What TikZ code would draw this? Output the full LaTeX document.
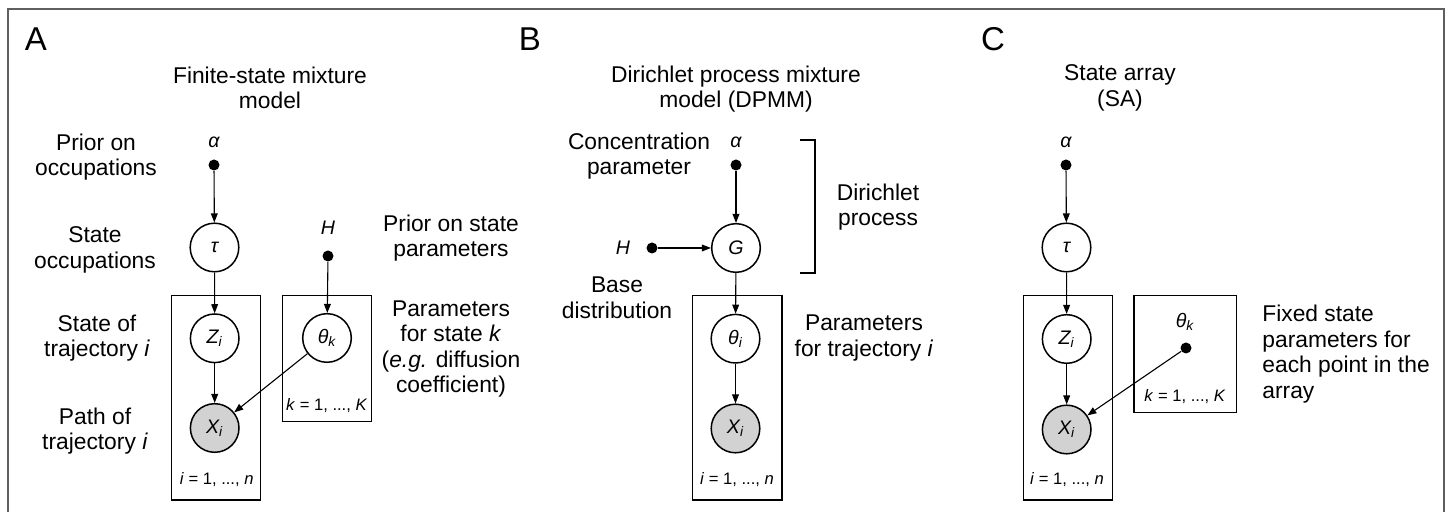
\documentclass[tikz,border=0pt]{standalone}
\usepackage{fontspec}
\setmainfont{Liberation Sans}
\usetikzlibrary{arrows.meta}
\definecolor{obsgray}{RGB}{210,210,210}
\definecolor{framegray}{RGB}{95,95,95}

\begin{document}
\begin{tikzpicture}[x=0.5pt,y=-0.5pt,
  txt/.style={align=center,inner sep=0pt,font=\fontsize{11.4}{12.8}\selectfont},
  panel/.style={inner sep=0pt,font=\fontsize{16.5}{19}\selectfont},
  var/.style={inner sep=0pt,font=\fontsize{9.8}{11}\selectfont\itshape},
  rv/.style={circle,draw,line width=0.75pt,minimum size=24.3pt,inner sep=0pt,font=\fontsize{9.8}{11}\selectfont\itshape},
  obs/.style={rv,fill=obsgray},
  hyper/.style={circle,fill,minimum size=5.5pt,inner sep=0pt},
  plate/.style={draw,line width=0.75pt},
  platelbl/.style={inner sep=0pt,font=\fontsize{8.3}{10}\selectfont},
  edge/.style={-{Triangle[length=4.5pt,width=3.4pt]},line width=0.55pt}]
  % Pixel grid: x to the right, y downward, 1448 x 512.
  \useasboundingbox (0,0) rectangle (1448,512);
  \draw[framegray,line width=1pt] (8,512) -- (8,9) -- (1443.5,9) -- (1443.5,512);

  % ---- A: finite-state mixture model ----
  \node[panel] (lblA) at (36,39) {A};
  \node[txt] (titleA) at (270,88) {Finite-state mixture\\model};
  \node[txt] (priorOcc) at (96,157) {Prior on\\occupations};
  \node[txt] (stateOcc) at (95,250) {State\\occupations};
  \node[txt] (stateTraj) at (97,338) {State of\\trajectory \textit{i}};
  \node[txt] (pathTraj) at (95,431) {Path of\\trajectory \textit{i}};
  \node[txt] (priorPar) at (451,238) {Prior on state\\parameters};
  \node[txt] (parState) at (451,349) {Parameters\\for state \textit{k}\\(\textit{e.g.} diffusion\\coefficient)};
  \draw[plate] (171.7,295.7) rectangle (260.7,500);
  \draw[plate] (282.7,295.7) rectangle (371.7,421.7);
  \node[var] (alphaAlbl) at (214,142) {α};
  \node[hyper] (alphaA) at (214,165) {};
  \node[rv] (tauA) at (214.5,247.5) {τ};
  \node[var] (HAlbl) at (328,228) {H};
  \node[hyper] (HA) at (328,256) {};
  \node[rv] (ZA) at (214.7,338.3) {Z\textsubscript{i}};
  \node[obs] (XA) at (214.7,428) {X\textsubscript{i}};
  \node[rv] (thetaA) at (327,338) {θ\textsubscript{k}};
  \node[platelbl] (nA) at (216.7,480) {\textit{i} = 1, ..., \textit{n}};
  \node[platelbl] (KA) at (326.7,406) {\textit{k} = 1, ..., \textit{K}};
  \draw[edge] (alphaA) -- (tauA);
  \draw[edge] (tauA) -- (ZA);
  \draw[edge] (ZA) -- (XA);
  \draw[edge] (HA) -- (thetaA);
  \draw[edge] (thetaA) -- (XA);

  % ---- B: Dirichlet process mixture model ----
  \node[panel] (lblB) at (530,39) {B};
  \node[txt] (titleB) at (736,89) {Dirichlet process mixture\\model (DPMM)};
  \node[txt] (concPar) at (639,156) {Concentration\\parameter};
  \node[txt] (dirProc) at (878,207) {Dirichlet\\process};
  \node[txt] (baseDist) at (617,298) {Base\\distribution};
  \node[txt] (parTraj) at (864,338) {Parameters\\for trajectory \textit{i}};
  \draw[plate] (692.7,295.7) rectangle (782,500);
  \draw[line width=0.6pt] (800,140) -- (815,140) -- (815,273) -- (800,273);
  \node[var] (alphaBlbl) at (736,142) {α};
  \node[hyper] (alphaB) at (736,165) {};
  \node[rv] (GB) at (736,248) {G};
  \node[var] (HBlbl) at (623,248) {H};
  \node[hyper] (HB) at (652,248) {};
  \node[rv] (thetaB) at (735.5,338.7) {θ\textsubscript{i}};
  \node[obs] (XB) at (735.5,428.5) {X\textsubscript{i}};
  \node[platelbl] (nB) at (737,480) {\textit{i} = 1, ..., \textit{n}};
  \draw[edge] (alphaB) -- (GB);
  \draw[edge] (HB) -- (GB);
  \draw[edge] (GB) -- (thetaB);
  \draw[edge] (thetaB) -- (XB);

  % ---- C: state array ----
  \node[panel] (lblC) at (993,39) {C};
  \node[txt] (titleC) at (1120,88) {State array\\(SA)};
  \node[txt,align=left,anchor=west] (fixedPar) at (1262,354) {Fixed state\\parameters for\\each point in the\\array};
  \draw[plate] (1023.3,295.7) rectangle (1112.7,500);
  \draw[plate] (1134,295.7) rectangle (1236.7,412.3);
  \node[var] (alphaClbl) at (1066,142) {α};
  \node[hyper] (alphaC) at (1066,165) {};
  \node[rv] (tauC) at (1066.5,247.5) {τ};
  \node[rv] (ZC) at (1066.7,339) {Z\textsubscript{i}};
  \node[obs] (XC) at (1066.7,429.5) {X\textsubscript{i}};
  \node[var] (thetaClbl) at (1185,322) {θ\textsubscript{k}};
  \node[hyper] (thetaC) at (1186,348) {};
  \node[platelbl] (KC) at (1185,397) {\textit{k} = 1, ..., \textit{K}};
  \node[platelbl] (nC) at (1067,480) {\textit{i} = 1, ..., \textit{n}};
  \draw[edge] (alphaC) -- (tauC);
  \draw[edge] (tauC) -- (ZC);
  \draw[edge] (ZC) -- (XC);
  \draw[edge] (thetaC) -- (XC);
\end{tikzpicture}
\end{document}
